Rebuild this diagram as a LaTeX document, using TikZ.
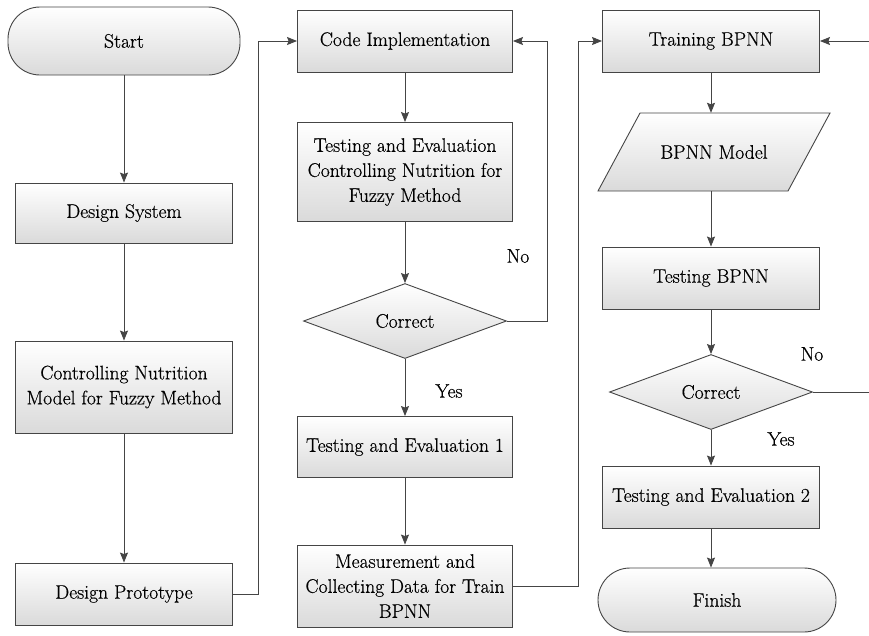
\documentclass[tikz,border=0pt]{standalone}
\usepackage{fontspec}
\setmainfont{Latin Modern Roman}[FakeBold=0.5]
\usetikzlibrary{shapes.geometric,arrows.meta}
\definecolor{linec}{HTML}{454545}
\definecolor{boxg}{HTML}{DADADA}
\begin{document}
\begin{tikzpicture}[x=1pt,y=-1pt,
  every node/.style={font=\rmfamily\fontsize{19.6}{25}\selectfont, text=black},
  shaded/.style={draw=linec, line width=0.9pt, top color=white, bottom color=boxg},
  procbox/.style={shaded, rectangle, minimum width=217pt, minimum height=62pt, align=center, inner sep=2pt},
  termbox/.style={shaded, rectangle, rounded corners=32pt, align=center},
  dia/.style={shaded, diamond, inner sep=0pt, minimum width=203pt, minimum height=75pt},
  arr/.style={draw=linec, line width=0.9pt, -{Stealth[length=10pt,width=8pt,inset=1.5pt]}},
  ln/.style={draw=linec, line width=0.9pt},
  lbl/.style={inner sep=0pt}
]
\useasboundingbox (0,0) rectangle (869,635);

% column 1
\node[termbox, minimum width=232pt, minimum height=68pt] (start) at (124,41) {Start};
\node[procbox, minimum height=60pt] (ds) at (124,213) {Design System};
\node[procbox, minimum height=92pt] (cn) at (124,387) {Controlling Nutrition\\Model for Fuzzy Method};
\node[procbox, minimum height=62pt] (dp) at (124,594) {Design Prototype};

% column 2
\node[procbox, minimum width=215pt] (ci) at (405,41) {Code Implementation};
\node[procbox, minimum width=215pt, minimum height=99pt] (te) at (405,172) {Testing and Evaluation\\Controlling Nutrition for\\Fuzzy Method};
\node[dia] (c1) at (405,321) {Correct};
\node[procbox, minimum width=215pt, minimum height=61pt] (t1) at (405,447) {Testing and Evaluation 1};
\node[procbox, minimum width=215pt, minimum height=82pt] (ms) at (405,586) {Measurement and\\Collecting Data for Train\\BPNN};

% column 3
\node[procbox] (tb) at (711,41) {Training BPNN};
\draw[shaded] (640,113) -- (830,113) -- (788,191) -- (598,191) -- cycle;
\node[minimum height=78pt, minimum width=150pt, inner sep=0pt] (bm) at (714,152) {BPNN Model};
\node[procbox] (tp) at (711,278) {Testing BPNN};
\node[dia] (c2) at (711,392) {Correct};
\node[procbox] (t2) at (711,497) {Testing and Evaluation 2};
\node[termbox, minimum width=238pt, minimum height=64pt] (fin) at (717,600) {Finish};

% junction coordinates
\coordinate (j1) at (258,0);
\coordinate (j2) at (547,0);
\coordinate (j3) at (578,0);
\coordinate (e1) at (869,41);
\coordinate (e2) at (869,392);

% connectors column 1
\draw[arr] (start) -- (ds);
\draw[arr] (ds) -- (cn);
\draw[arr] (cn) -- (dp);
\draw[arr] (dp.east) -| (j1 |- ci.west) -- (ci.west);

% connectors column 2
\draw[arr] (ci) -- (te);
\draw[arr] (te) -- (c1);
\draw[arr] (c1.east) -| (j2 |- ci.east) -- (ci.east);
\draw[arr] (c1) -- (t1);
\draw[arr] (t1) -- (ms);
\draw[arr] (ms.east) -| (j3 |- tb.west) -- (tb.west);

% connectors column 3
\draw[arr] (tb.south) -- (tb.south |- bm.north);
\draw[arr] (tb.south |- bm.south) -- (tp.north);
\draw[arr] (tp) -- (c2);
\draw[arr] (c2) -- (t2);
\draw[arr] (t2.south) -- (t2.south |- fin.north);
\draw[ln] (c2.east) -- (e2);
\draw[arr] (e1) -- (tb.east);

% labels
\node[lbl] (no1) at (518,256) {No};
\node[lbl] (yes1) at (449,391) {Yes};
\node[lbl] (no2) at (812,354) {No};
\node[lbl] (yes2) at (781,439) {Yes};
\end{tikzpicture}
\end{document}
